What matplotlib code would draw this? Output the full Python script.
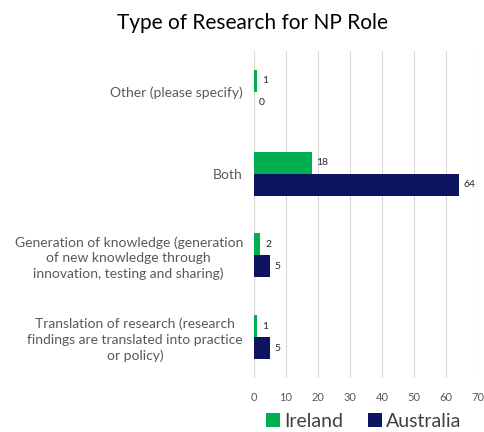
import matplotlib.pyplot as plt
import numpy as np

plt.rcParams['font.family'] = ['Lato', 'DejaVu Sans']

categories = ['Other (please specify)', 'Both',
              'Generation of knowledge (generation\nof new knowledge through\ninnovation, testing and sharing)',
              'Translation of research (research\nfindings are translated into practice\nor policy)']
ireland = [1, 18, 2, 1]
australia = [0, 64, 5, 5]
series_names = ['Ireland', 'Australia']
colors = ['#00B050', '#0E1560']

fig = plt.figure(figsize=(4.85, 4.32), dpi=100)
ax = fig.add_axes([254 / 485, 1 - 378 / 432, 224 / 485, 327 / 432])

y = np.arange(len(categories))
h = 0.27
ax.barh(y - h / 2, ireland, height=h, color=colors[0], label=series_names[0], zorder=3)
ax.barh(y + h / 2, australia, height=h, color=colors[1], label=series_names[1], zorder=3)

for yi, v in zip(y, ireland):
    ax.text(v + 1.5, yi - h / 2, str(v), va='center', ha='left', fontsize=7.5, color='#262626')
for yi, v in zip(y, australia):
    ax.text(v + 1.5, yi + h / 2, str(v), va='center', ha='left', fontsize=7.5, color='#262626')

ax.set_ylim(3.5, -0.5)
ax.set_xlim(0, 70)
ax.set_xticks(range(0, 71, 10))
ax.set_yticks(y)
ax.set_yticklabels(categories, fontsize=10, color='#595959', multialignment='center',
                   linespacing=1.35)
ax.tick_params(axis='x', labelsize=8, colors='#595959', length=0, pad=10)
ax.tick_params(axis='y', length=0, pad=8)
ax.grid(axis='x', color='#D9D9D9', linewidth=0.8, zorder=0)
for s in ax.spines.values():
    s.set_visible(False)

fig.suptitle('Type of Research for NP Role', x=0.52, y=0.97, fontsize=15, color='black')
fig.legend(loc='center', bbox_to_anchor=(0.75, 0.025), ncol=2, frameon=False,
           fontsize=14, handlelength=0.7, handleheight=0.7, handletextpad=0.2,
           columnspacing=1.3, labelcolor='#404040')

plt.savefig('out.png')
